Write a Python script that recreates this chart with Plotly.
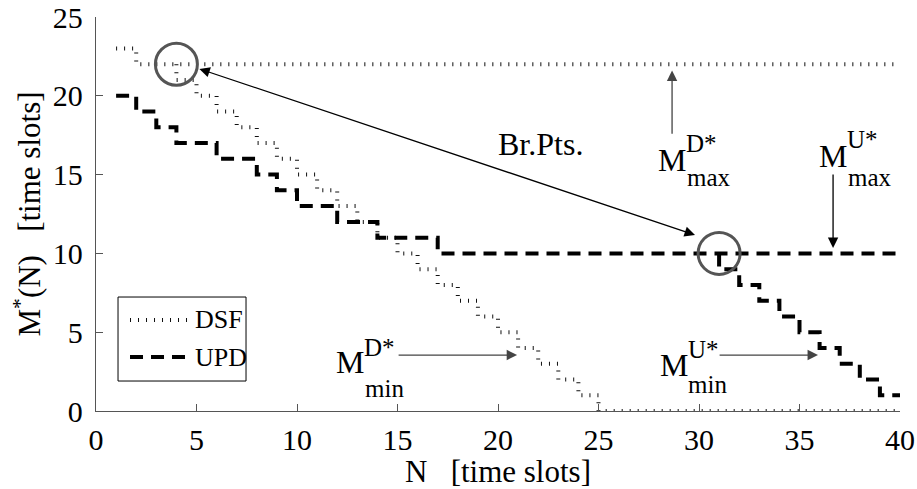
import plotly.graph_objects as go

# ---------------- data ----------------
# DSF: upper (max) branch and lower (min) branch, step curves
dsf_max_n = [1, 2, 40]
dsf_max_m = [23, 22, 22]
dsf_min_n = [4, 5, 6, 7, 8, 9, 10, 11, 12, 13, 14, 15, 16, 17, 18, 19, 20, 21, 22, 23, 24, 25, 40]
dsf_min_m = [22, 21, 20, 19, 18, 17, 16, 15, 14, 13, 12, 11, 10, 9, 8, 7, 6, 5, 4, 3, 2, 1, 0]

# UPD: upper (max) branch and lower (min) branch
upd_max_n = [1, 2, 3, 4, 6, 8, 9, 10, 12, 14, 17, 40]
upd_max_m = [20, 19, 18, 17, 16, 15, 14, 13, 12, 11, 10, 10]
upd_min_n = [31, 32, 33, 34, 35, 36, 37, 38, 39, 40]
upd_min_m = [10, 9, 8, 7, 6, 5, 4, 3, 2, 1]

# break points
break_n = [4, 31]
break_m = [22, 10]

x_ticks = [0, 5, 10, 15, 20, 25, 30, 35, 40]
y_ticks = [0, 5, 10, 15, 20, 25]

legend_names = ["DSF", "UPD"]

FONT = "Liberation Serif, Times New Roman, serif"
fig = go.Figure()

dsf_style = dict(color="#111111", width=4, dash="1px,7px")
upd_style = dict(color="black", width=4, dash="13px,8px")

fig.add_trace(go.Scatter(x=dsf_max_n, y=dsf_max_m, mode="lines", line_shape="hv",
                         line=dsf_style, name=legend_names[0], showlegend=False))
fig.add_trace(go.Scatter(x=dsf_min_n, y=dsf_min_m, mode="lines", line_shape="vh",
                         line=dsf_style, name=legend_names[0], showlegend=False))
fig.add_trace(go.Scatter(x=upd_max_n, y=upd_max_m, mode="lines", line_shape="hv",
                         line=upd_style, name=legend_names[1], showlegend=False))
fig.add_trace(go.Scatter(x=upd_min_n, y=upd_min_m, mode="lines", line_shape="vh",
                         line=upd_style, name=legend_names[1], showlegend=False))

# circles around break points
for bn, bm in zip(break_n, break_m):
    fig.add_shape(type="circle", xref="x", yref="y", xsizemode="pixel", ysizemode="pixel",
                  xanchor=bn, yanchor=bm, x0=-21, x1=21, y0=-21, y1=21,
                  line=dict(color="#555555", width=3))

ann = []
def txt(x, y, t, size, ref="x"):
    ann.append(dict(x=x, y=y, xref=ref, yref=("y" if ref == "x" else "paper"), text=t, showarrow=False,
                    xanchor="left", yanchor="middle", font=dict(family=FONT, size=size, color="black")))

def arrow(x0, y0, x1, y1, color="black", side="end"):
    ann.append(dict(x=x1, y=y1, ax=x0, ay=y0, xref="x", yref="y", axref="x", ayref="y",
                    text="", showarrow=True, arrowhead=2, arrowsize=1.6, arrowwidth=1.3,
                    arrowcolor=color, arrowside=side, standoff=0, startstandoff=0))

# Br.Pts.
ann.append(dict(x=22.1, y=16.95, xref="x", yref="y", text="Br.Pts.", showarrow=False,
                font=dict(family=FONT, size=32, color="black")))
arrow(5.07, 21.74, 29.8, 11.17, color="black", side="end+start")

MS, SS = 32, 25
# M^D*_max
txt(27.85, 15.95, "M", MS); txt(29.25, 16.95, "D*", SS); txt(29.3, 14.8, "max", SS)
arrow(28.66, 17.5, 28.66, 21.6, color="#444444")
# M^U*_max
txt(35.85, 16.2, "M", MS); txt(37.25, 17.2, "U*", SS); txt(37.3, 14.8, "max", SS)
arrow(36.67, 15.1, 36.67, 10.35, color="black")
# M^D*_min
txt(11.85, 3.1, "M", MS); txt(13.25, 4.0, "D*", SS); txt(13.3, 1.45, "min", SS)
arrow(14.98, 3.55, 20.95, 3.55, color="#444444")
# M^U*_min
txt(27.95, 2.95, "M", MS); txt(29.35, 3.9, "U*", SS); txt(29.35, 1.7, "min", SS)
arrow(30.95, 3.55, 35.92, 3.55, color="#444444")

# ---- legend box (drawn manually so the line samples are as long as in the original) ----
fig.add_shape(type="rect", xref="paper", yref="paper", x0=0.0274, x1=0.1866, y0=0.0761, y1=0.2893,
              line=dict(color="black", width=1), fillcolor="white", layer="above")
fig.add_shape(type="line", xref="paper", yref="paper", x0=0.0423, x1=0.1169, y0=0.231, y1=0.231,
              line=dsf_style)
fig.add_shape(type="line", xref="paper", yref="paper", x0=0.0423, x1=0.1194, y0=0.137, y1=0.137,
              line=upd_style)
txt(0.1206, 0.231, legend_names[0], 26, ref="paper")
txt(0.1206, 0.137, legend_names[1], 26, ref="paper")

axis_common = dict(showline=True, linecolor="#555555", linewidth=1.3, ticks="inside",
                   ticklen=7, tickcolor="#555555", showgrid=False, zeroline=False,
                   tickfont=dict(family=FONT, size=30, color="black"), mirror=False,
                   automargin=False)

fig.update_layout(
    width=917, height=489,
    margin=dict(l=96, r=17, t=17, b=78),
    paper_bgcolor="white", plot_bgcolor="white",
    font=dict(family=FONT, color="black"),
    annotations=ann,
    showlegend=False,
    xaxis=dict(range=[0, 40], tickvals=x_ticks, ticktext=[str(v) for v in x_ticks],
               ticklabelstandoff=2,
               title=dict(text="N   [time slots]", font=dict(family=FONT, size=31), standoff=0),
               **axis_common),
    yaxis=dict(range=[0, 25], tickvals=y_ticks, ticktext=[str(v) for v in y_ticks],
               ticklabelstandoff=6,
               title=dict(text="M<sup>*</sup>(N)   [time slots]", font=dict(family=FONT, size=31), standoff=2),
               **axis_common),
)

fig.write_html("out.html", config={"displayModeBar": False},
               post_script="document.body.style.margin='0';document.body.style.padding='0';")
